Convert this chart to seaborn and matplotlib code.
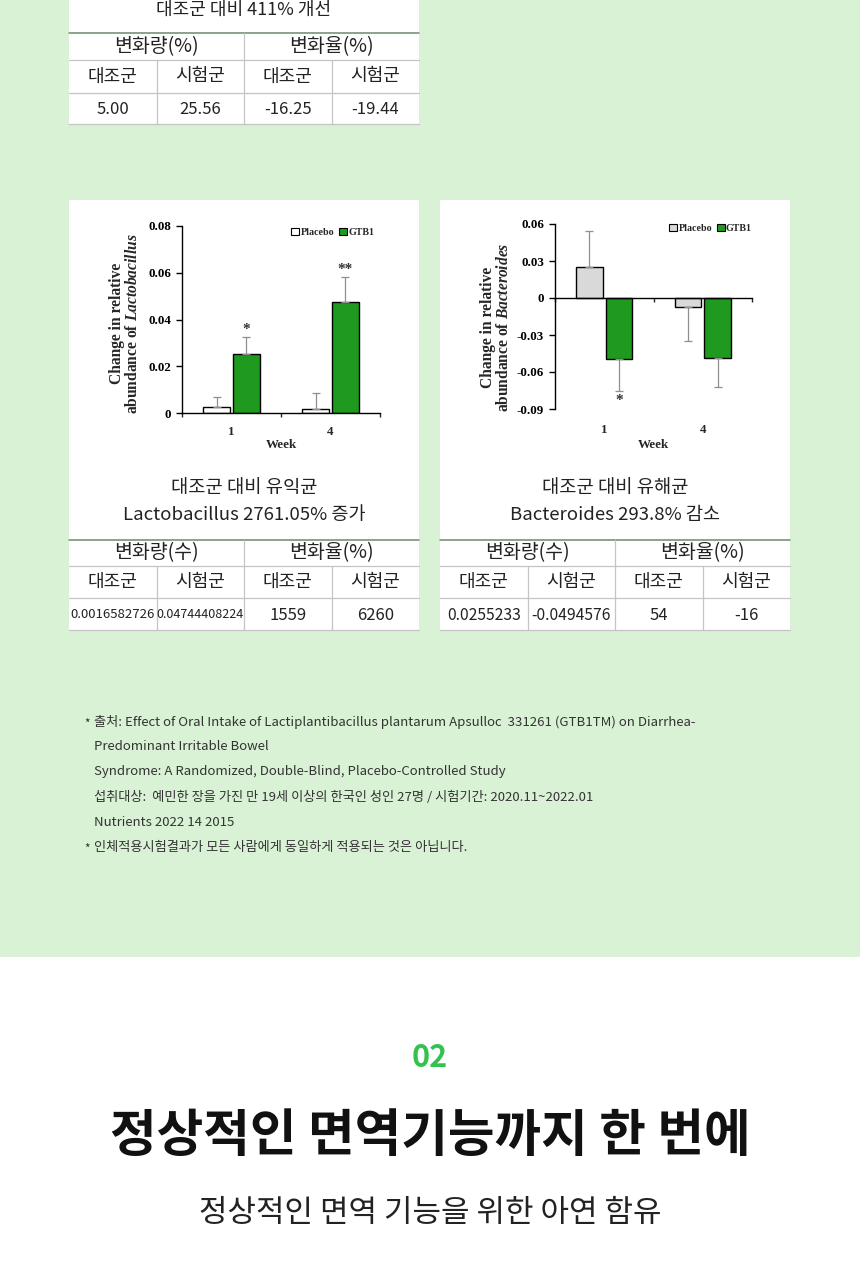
import pandas as pd
import seaborn as sns
import matplotlib.pyplot as plt
from matplotlib.patches import Rectangle, Patch
from matplotlib.lines import Line2D

# ---- data ----
weeks = ["1", "4"]
groups = ["Placebo", "GTB1"]

lacto_placebo = [0.0025, 0.0017]
lacto_gtb1 = [0.0253, 0.0474]
lacto_placebo_err = [0.0043, 0.0070]
lacto_gtb1_err = [0.0073, 0.0106]
lacto_stars = ["*", "**"]
lacto_yticks = [0, 0.02, 0.04, 0.06, 0.08]
lacto_yticklabels = ["0", "0.02", "0.04", "0.06", "0.08"]

bact_placebo = [0.0255, -0.0076]
bact_gtb1 = [-0.0495, -0.0487]
bact_placebo_err = [0.029, 0.027]
bact_gtb1_err = [0.026, 0.0235]
bact_stars = ["*", ""]
bact_yticks = [-0.09, -0.06, -0.03, 0, 0.03, 0.06]
bact_yticklabels = ["-0.09", "-0.06", "-0.03", "0", "0.03", "0.06"]

top_title = "대조군 대비 411% 개선"
top_headers = ["변화량(%)", "변화율(%)"]
sub_headers = ["대조군", "시험군", "대조군", "시험군"]
top_values = ["5.00", "25.56", "-16.25", "-19.44"]

lacto_caption = ["대조군 대비 유익균", "Lactobacillus 2761.05% 증가"]
lacto_headers = ["변화량(수)", "변화율(%)"]
lacto_values = ["0.0016582726", "0.04744408224", "1559", "6260"]

bact_caption = ["대조군 대비 유해균", "Bacteroides 293.8% 감소"]
bact_headers = ["변화량(수)", "변화율(%)"]
bact_values = ["0.0255233", "-0.0494576", "54", "-16"]

notes = [
    ("*", "출처: Effect of Oral Intake of Lactiplantibacillus plantarum Apsulloc  331261 (GTB1TM) on Diarrhea-"),
    ("", "Predominant Irritable Bowel"),
    ("", "Syndrome: A Randomized, Double-Blind, Placebo-Controlled Study"),
    ("", "섭취대상:  예민한 장을 가진 만 19세 이상의 한국인 성인 27명 / 시험기간: 2020.11~2022.01"),
    ("", "Nutrients 2022 14 2015"),
    ("*", "인체적용시험결과가 모든 사람에게 동일하게 적용되는 것은 아닙니다."),
]

section_no = "02"
heading = "정상적인 면역기능까지 한 번에"
subheading = "정상적인 면역 기능을 위한 아연 함유"

# ---- style ----
GREEN = "#1f9a1f"
BG = "#d9f2d5"
LINE_DARK = "#6b8a6b"
LINE = "#c4c4c4"
TXT = "#222222"
SERIF = "Liberation Serif"

sns.set_style("white")
plt.rcParams["font.family"] = ["Noto Sans CJK KR", "DejaVu Sans"]
plt.rcParams["mathtext.fontset"] = "custom"
plt.rcParams["mathtext.it"] = "Liberation Serif:italic:bold"
plt.rcParams["mathtext.rm"] = "Liberation Serif:bold"
plt.rcParams["mathtext.bf"] = "Liberation Serif:bold"

W, H = 860, 1280
fig = plt.figure(figsize=(W / 100, H / 100), dpi=100)
fig.patch.set_facecolor("white")


def fx(x):
    return x / W


def fy(y):
    return 1 - y / H


def text(x, y, s, **kw):
    kw.setdefault("ha", "center")
    kw.setdefault("va", "center")
    kw.setdefault("color", TXT)
    fig.text(fx(x), fy(y), s, **kw)


def box(x0, y0, x1, y1, color):
    fig.add_artist(Rectangle((fx(x0), fy(y1)), fx(x1) - fx(x0), fy(y0) - fy(y1),
                             transform=fig.transFigure, facecolor=color, edgecolor="none", zorder=0))


def line(x0, y0, x1, y1, color, lw):
    fig.add_artist(Line2D([fx(x0), fx(x1)], [fy(y0), fy(y1)], color=color, lw=lw,
                          transform=fig.transFigure))


def draw_table(x0, ys, headers, values, value_sizes):
    cols = [x0 + c for c in (0, 87.5, 175, 262.5, 350)]
    line(cols[0], ys[0], cols[-1], ys[0], LINE_DARK, 1.1)
    for y in ys[1:]:
        line(cols[0], y, cols[-1], y, LINE, 0.9)
    line(cols[2], ys[0], cols[2], ys[3], LINE, 0.9)
    line(cols[1], ys[1], cols[1], ys[3], LINE, 0.9)
    line(cols[3], ys[1], cols[3], ys[3], LINE, 0.9)
    for i, h in enumerate(headers):
        text((cols[2 * i] + cols[2 * i + 2]) / 2, (ys[0] + ys[1]) / 2, h, size=14)
    for i, s in enumerate(sub_headers):
        text((cols[i] + cols[i + 1]) / 2, (ys[1] + ys[2]) / 2, s, size=13)
    for i, v in enumerate(values):
        text((cols[i] + cols[i + 1]) / 2, (ys[2] + ys[3]) / 2 + 1, v, size=value_sizes[i])


def bar_chart(rect, placebo, gtb1, p_err, g_err, stars, yticks, yticklabels,
              placebo_color, genus, label_pos, tick_y, week_y, legend_anchor, star_up):
    ax = fig.add_axes(rect)
    ax.patch.set_alpha(0)
    df = pd.DataFrame({
        "week": weeks * 2,
        "group": [groups[0]] * len(weeks) + [groups[1]] * len(weeks),
        "value": placebo + gtb1,
    })
    sns.barplot(data=df, x="week", y="value", hue="group", hue_order=groups,
                palette=[placebo_color, GREEN], saturation=1, width=0.6, gap=0.1,
                edgecolor="black", linewidth=1, errorbar=None, legend=False, ax=ax)
    for cont, vals, errs in zip(ax.containers, [placebo, gtb1], [p_err, g_err]):
        for bar, v, e in zip(cont, vals, errs):
            xc = bar.get_x() + bar.get_width() / 2
            yerr = [[0], [e]] if v >= 0 else [[e], [0]]
            ax.errorbar(xc, v, yerr=yerr, fmt="none", ecolor="#8f8f8f",
                        elinewidth=0.9, capsize=3, capthick=0.9, zorder=1)
    for bar, v, e, s in zip(ax.containers[1], gtb1, g_err, stars):
        if not s:
            continue
        xc = bar.get_x() + bar.get_width() / 2
        if v >= 0:
            ax.text(xc, v + e + star_up, s, ha="center", va="bottom",
                    family=SERIF, weight="bold", size=11, color="#333")
        else:
            ax.text(xc, v - e - star_up, s, ha="center", va="top",
                    family=SERIF, weight="bold", size=11, color="#333")

    ax.set_xlim(-0.5, len(weeks) - 0.5)
    ax.set_ylim(yticks[0], yticks[-1])
    ax.set_yticks(yticks)
    ax.set_yticklabels(yticklabels, family=SERIF, weight="bold", size=9.4)
    ax.set_xticks([-0.5 + i for i in range(len(weeks) + 1)])
    ax.set_xticklabels([])
    ax.tick_params(axis="y", direction="out", length=4, width=1, pad=4, left=True, colors="black")
    ax.tick_params(axis="x", direction="out", length=3, width=1, bottom=True)
    for side in ["top", "right"]:
        ax.spines[side].set_visible(False)
    for side in ["left", "bottom"]:
        ax.spines[side].set_color("black")
        ax.spines[side].set_linewidth(1)
    ax.spines["bottom"].set_position(("data", 0))
    ax.set_xlabel("")
    ax.set_ylabel("")
    tr = ax.get_xaxis_transform()
    for i, w in enumerate(weeks):
        ax.text(i, tick_y, w, transform=tr, ha="center", va="center",
                family=SERIF, weight="bold", size=9.4)
    ax.text(0.5, week_y, "Week", transform=ax.transAxes, ha="center", va="center",
            family=SERIF, weight="bold", size=9.4)
    ax.text(label_pos[0], label_pos[1],
            "Change in relative\nabundance of $\\mathit{" + genus + "}$",
            transform=ax.transAxes, rotation=90, ha="center", va="center",
            family=SERIF, weight="bold", size=11.2, linespacing=1.0)
    handles = [Patch(facecolor=placebo_color, edgecolor="black", lw=0.8),
               Patch(facecolor=GREEN, edgecolor="black", lw=0.8)]
    ax.legend(handles, groups, loc="upper right", bbox_to_anchor=legend_anchor, frameon=False,
              ncol=2, handlelength=0.75, handleheight=0.75, handletextpad=0.15,
              columnspacing=0.5, borderaxespad=0, borderpad=0,
              prop=dict(family=SERIF, weight="bold", size=7.2))
    return ax


# ---- backgrounds ----
box(0, 0, W, 957, BG)
box(69, 0, 419, 124, "white")
box(69, 200, 419, 630, "white")
box(440, 200, 790, 630, "white")

# ---- top table ----
text(244, 10, top_title, size=13)
draw_table(69, [33, 60, 93, 124], top_headers, top_values, [12, 12, 12, 12])

# ---- charts ----
bar_chart([fx(182), fy(413), 198 / W, 187 / H], lacto_placebo, lacto_gtb1,
          lacto_placebo_err, lacto_gtb1_err, lacto_stars, lacto_yticks, lacto_yticklabels,
          "white", "Lactobacillus", (-0.29, 0.48), -0.10, -0.17, (0.97, 0.99), 0.0005)
bar_chart([fx(555), fy(409), 197 / W, 185 / H], bact_placebo, bact_gtb1,
          bact_placebo_err, bact_gtb1_err, bact_stars, bact_yticks, bact_yticklabels,
          "#d9d9d9", "Bacteroides", (-0.30, 0.443), -0.115, -0.195, (1.0, 1.0), 0.002)

# ---- captions + tables ----
text(244, 488, lacto_caption[0], size=13.5)
text(244, 515, lacto_caption[1], size=13.4)
draw_table(69, [540, 566, 598, 630], lacto_headers, lacto_values, [9.5, 9, 12, 12])

text(615, 488, bact_caption[0], size=13.5)
text(615, 515, bact_caption[1], size=13.4)
draw_table(440, [540, 566, 598, 630], bact_headers, bact_values, [11.3, 11.3, 12, 12])

# ---- footnotes ----
for i, (mark, s) in enumerate(notes):
    y = 722 + 25 * i
    if mark:
        text(87, y + 2, mark, size=8.5, ha="center", color="#333")
    text(94, y, s, size=9.5, ha="left", color="#333")

# ---- section heading ----
text(430, 1058, section_no, size=22, weight="bold", color="#33c24d")
text(430, 1137, heading, size=36.5, weight="bold", color="#111111")
text(430, 1213, subheading, size=22.3, color="#222222")

fig.savefig("out.png", dpi=100)
